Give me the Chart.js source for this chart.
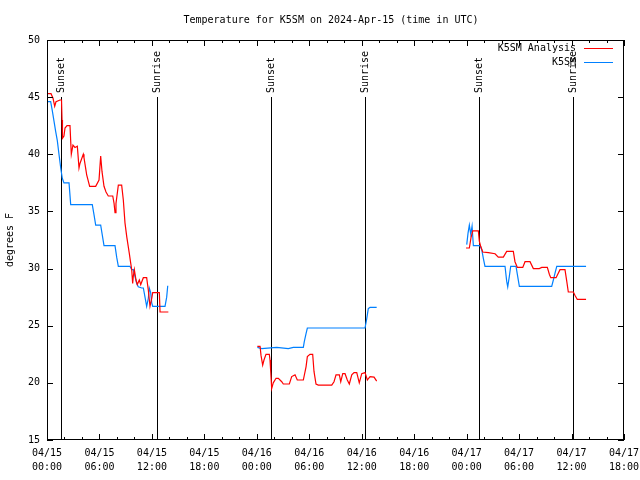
<!DOCTYPE html>
<html>
<head>
<meta charset="utf-8">
<script src="https://cdn.jsdelivr.net/npm/chart.js@4"></script>
<style>
  html, body { margin: 0; background: #fff; }
  canvas { display: block; }
</style>
</head>
<body>
<canvas id="tempChart" width="640" height="480"></canvas>
<script>
// hours since 04/15 00:00 UTC, null temp = gap in the record
const analysisHours = [
  0.0, 0.46, 0.69, 0.88, 1.03, 1.49, 1.66, 1.72, 1.77, 1.94, 2.06, 2.29, 2.63, 2.78, 2.97, 3.20,
  3.47, 3.66, 3.77, 4.15, 4.23, 4.54, 4.88, 5.57, 5.95, 6.14, 6.29, 6.52, 6.75, 7.01, 7.52, 7.67,
  7.78, 7.89, 8.16, 8.54, 8.73, 8.92, 9.12, 9.30, 9.41, 9.57, 9.69, 9.80, 9.87, 9.99, 10.18, 10.33,
  10.56, 10.72, 11.02, 11.40, 11.59, 11.78, 11.98, 12.09, 12.85, 12.93, 13.88,
  19.0,
  24.06, 24.37, 24.48, 24.67, 24.82, 25.05, 25.43, 25.51, 25.59, 25.70, 25.88, 26.20, 26.46, 26.85,
  27.03, 27.72, 27.99, 28.37, 28.63, 29.32, 29.63, 29.78, 30.08, 30.39, 30.54, 30.77, 31.03, 32.57,
  32.83, 33.06, 33.44, 33.60, 33.83, 34.09, 34.35, 34.58, 34.86, 35.12, 35.43, 35.72, 36.00, 36.38,
  36.64, 36.95, 37.41, 37.71,
  43.0,
  47.93, 48.31, 48.50, 48.70, 49.34, 49.45, 49.61, 49.84, 50.48, 51.25, 51.62, 52.20, 52.58, 53.34,
  53.53, 53.80, 54.42, 54.68, 55.25, 55.63, 56.31, 56.59, 57.23, 57.46, 57.62, 58.23, 58.68, 59.25,
  59.45, 59.63, 60.21, 60.40, 60.66, 61.66
];
const analysisTemps = [
  45.3, 45.3, 44.9, 44.2, 44.6, 44.75, 44.75, 43.0, 41.4, 41.6, 42.3, 42.5, 42.5, 40.0, 40.8, 40.6,
  40.7, 38.8, 39.2, 40.0, 39.7, 38.2, 37.2, 37.2, 37.75, 39.85, 38.5, 37.2, 36.7, 36.35, 36.35, 35.7,
  34.9, 35.7, 37.3, 37.3, 36.0, 34.0, 32.8, 31.9, 31.35, 30.5, 29.9, 28.7, 29.3, 29.9, 29.0, 28.6,
  29.0, 28.6, 29.2, 29.2, 28.1, 26.7, 27.4, 27.9, 27.9, 26.2, 26.2,
  null,
  23.2, 23.2, 22.4, 21.55, 22.0, 22.5, 22.5, 22.0, 21.0, 19.5, 20.0, 20.4, 20.4, 20.1,
  19.9, 19.9, 20.55, 20.7, 20.25, 20.25, 21.4, 22.3, 22.5, 22.5, 21.0, 19.9, 19.8, 19.8,
  20.1, 20.7, 20.7, 20.1, 20.8, 20.8, 20.25, 19.9, 20.7, 20.9, 20.9, 20.0, 20.8, 20.9,
  20.25, 20.55, 20.5, 20.15,
  null,
  31.8, 31.8, 32.7, 33.3, 33.3, 32.4, 31.95, 31.45, 31.4, 31.3, 31.0, 31.0, 31.5, 31.5,
  30.6, 30.1, 30.1, 30.6, 30.6, 30.0, 30.0, 30.1, 30.1, 29.5, 29.2, 29.2, 29.9, 29.9,
  28.9, 27.95, 27.95, 27.65, 27.3, 27.3
];

const stationHours = [
  0.03, 0.42, 0.61, 0.80, 0.99, 1.18, 1.37, 1.57, 1.75, 1.94, 2.52, 2.71, 5.18, 5.38, 5.57, 6.14,
  6.33, 6.52, 7.78, 7.97, 8.16, 9.49, 9.69, 9.87, 10.07, 10.26, 10.44, 10.83, 11.02, 11.21, 11.40,
  11.59, 11.70, 11.86, 11.98, 12.09, 13.50, 13.69, 13.81,
  19.0,
  24.06, 24.56, 26.28, 27.60, 28.17, 29.32, 29.43, 29.63, 29.78, 36.38, 36.57, 36.75, 36.95, 37.71,
  43.0,
  48.01, 48.16, 48.31, 48.47, 48.62, 48.77, 49.53, 49.73, 49.91, 50.10, 52.39, 52.58, 52.70, 52.88,
  53.04, 53.65, 53.80, 54.03, 57.73, 57.92, 58.11, 58.31, 61.66
];
const stationTemps = [
  44.6, 44.6, 43.8, 42.9, 42.0, 41.2, 40.0, 38.8, 37.9, 37.5, 37.5, 35.6, 35.6, 34.7, 33.8, 33.8,
  32.9, 32.0, 32.0, 31.0, 30.2, 30.2, 29.9, 29.9, 29.3, 28.7, 28.4, 28.3, 28.3, 27.5, 26.7,
  27.4, 28.3, 27.9, 27.0, 26.7, 26.7, 27.5, 28.5,
  null,
  23.1, 23.0, 23.1, 23.0, 23.1, 23.1, 23.6, 24.3, 24.8, 24.8, 25.6, 26.5, 26.6, 26.6,
  null,
  32.1, 33.1, 33.8, 33.0, 33.7, 32.0, 32.0, 31.65, 30.9, 30.2, 30.2, 28.9, 28.4, 29.3,
  30.2, 30.2, 29.5, 28.45, 28.45, 29.0, 29.6, 30.2, 30.2
];

const sunsetHours = [1.65, 25.6, 49.45];
const sunriseHours = [12.55, 36.42, 60.22];

const titleText = 'Temperature for K5SM on 2024-Apr-15 (time in UTC)';
const yTitle = 'degrees F';
const seriesNames = ['K5SM Analysis', 'K5SM'];
const seriesColors = ['#ff0000', '#0080ff'];

const FONT = '10px "DejaVu Sans Mono", monospace';

function toPoints(hours, temps) {
  return hours.map((h, i) => ({ x: h, y: temps[i] }));
}

const gnuFrame = {
  id: 'gnuFrame',
  beforeDatasetsDraw(chart) {
    const { ctx, chartArea, scales } = chart;
    ctx.save();
    ctx.strokeStyle = '#000';
    ctx.lineWidth = 1;
    ctx.fillStyle = '#000';
    ctx.font = FONT;
    const marks = sunsetHours.map(h => [h, 'Sunset']).concat(sunriseHours.map(h => [h, 'Sunrise']));
    marks.forEach(([h, name]) => {
      const px = Math.round(scales.x.getPixelForValue(h)) + 0.5;
      ctx.beginPath();
      ctx.moveTo(px, 97);
      ctx.lineTo(px, chartArea.bottom);
      ctx.stroke();
      ctx.save();
      ctx.translate(px, 93);
      ctx.rotate(-Math.PI / 2);
      ctx.textAlign = 'left';
      ctx.textBaseline = 'middle';
      ctx.fillText(name, 0, 0);
      ctx.restore();
    });
    ctx.restore();
  },
  afterDatasetsDraw(chart) {
    const { ctx, chartArea: a, scales } = chart;
    ctx.save();
    ctx.strokeStyle = '#000';
    ctx.lineWidth = 1;
    ctx.strokeRect(a.left + 0.5, a.top + 0.5, a.right - a.left - 1, a.bottom - a.top - 1);

    ctx.beginPath();
    for (let h = 0; h <= 66; h += 2) {
      const px = Math.round(scales.x.getPixelForValue(h)) + 0.5;
      const len = h % 6 === 0 ? 6 : 3;
      ctx.moveTo(px, a.bottom); ctx.lineTo(px, a.bottom - len);
      ctx.moveTo(px, a.top); ctx.lineTo(px, a.top + len);
    }
    for (let v = 15; v <= 50; v += 5) {
      const py = Math.round(scales.y.getPixelForValue(v)) + 0.5;
      ctx.moveTo(a.left, py); ctx.lineTo(a.left + 6, py);
      ctx.moveTo(a.right, py); ctx.lineTo(a.right - 6, py);
    }
    ctx.stroke();

    ctx.fillStyle = '#000';
    ctx.font = FONT;
    ctx.textAlign = 'center';
    ctx.textBaseline = 'middle';
    ctx.fillText(titleText, 331, 20);

    ctx.save();
    ctx.translate(10, 240);
    ctx.rotate(-Math.PI / 2);
    ctx.fillText(yTitle, 0, 0);
    ctx.restore();

    // legend, text right aligned with the sample line after it
    ctx.textAlign = 'right';
    seriesNames.forEach((name, i) => {
      const y = 48 + i * 14;
      ctx.fillStyle = '#000';
      ctx.fillText(name, 576, y);
      ctx.strokeStyle = seriesColors[i];
      ctx.beginPath();
      ctx.moveTo(584, y + 0.5);
      ctx.lineTo(613, y + 0.5);
      ctx.stroke();
    });
    ctx.restore();
  }
};

const ctx = document.getElementById('tempChart').getContext('2d');
const chart = new Chart(ctx, {
  type: 'line',
  data: {
    datasets: [
      {
        label: seriesNames[0],
        data: toPoints(analysisHours, analysisTemps),
        borderColor: seriesColors[0],
        borderWidth: 1.2,
        pointRadius: 0,
        tension: 0,
        spanGaps: false
      },
      {
        label: seriesNames[1],
        data: toPoints(stationHours, stationTemps),
        borderColor: seriesColors[1],
        borderWidth: 1.2,
        pointRadius: 0,
        tension: 0,
        spanGaps: false
      }
    ]
  },
  options: {
    responsive: false,
    animation: false,
    devicePixelRatio: 1,
    layout: { padding: { top: 40, right: 16, left: 0, bottom: 0 } },
    plugins: {
      legend: { display: false },
      tooltip: { enabled: false },
      title: { display: false }
    },
    scales: {
      x: {
        type: 'linear',
        min: 0,
        max: 66,
        afterFit: s => { s.height = 40; s.paddingLeft = 0; s.paddingRight = 0; },
        grid: { display: false, drawTicks: false },
        border: { display: false },
        ticks: {
          stepSize: 6,
          autoSkip: false,
          maxRotation: 0,
          padding: 6,
          color: '#000',
          font: { family: '"DejaVu Sans Mono", monospace', size: 10, lineHeight: 1.4 },
          callback: v => {
            const day = 15 + Math.floor(v / 24);
            const hh = String(v % 24).padStart(2, '0');
            return ['04/' + day, hh + ':00'];
          }
        }
      },
      y: {
        min: 15,
        max: 50,
        afterFit: s => { s.width = 47; s.paddingTop = 0; s.paddingBottom = 0; },
        grid: { display: false, drawTicks: false },
        border: { display: false },
        ticks: {
          stepSize: 5,
          padding: 7,
          color: '#000',
          font: { family: '"DejaVu Sans Mono", monospace', size: 10 }
        }
      }
    }
  },
  plugins: [gnuFrame]
});
</script>
</body>
</html>
